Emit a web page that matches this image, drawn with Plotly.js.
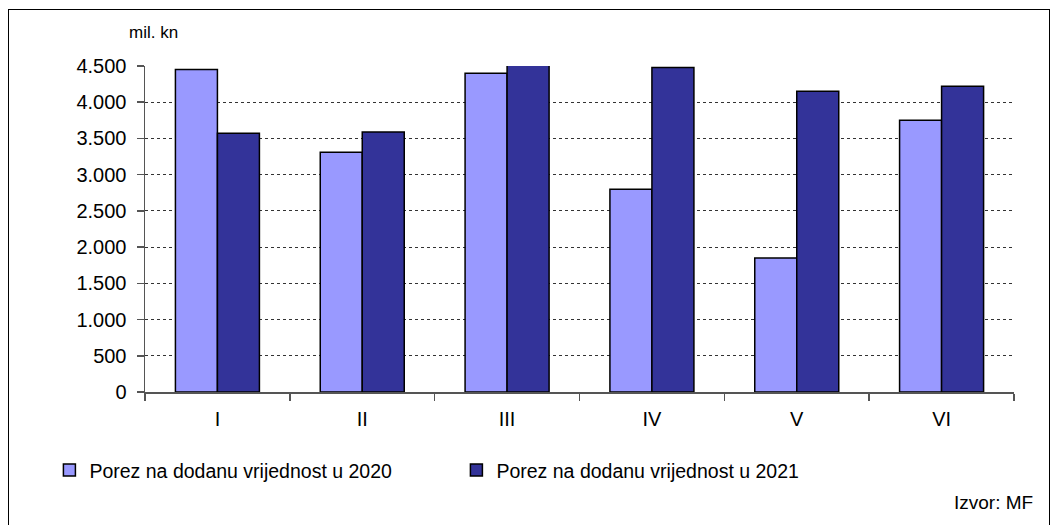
<!DOCTYPE html>
<html><head><meta charset="utf-8">
<script src="https://cdn.plot.ly/plotly-3.0.1.min.js"></script>
<style>
html,body{margin:0;padding:0;background:#fff;}
#wrap{position:relative;width:1059px;height:525px;}
#chart{width:1059px;height:525px;}
#frame{position:absolute;left:8px;top:9px;width:1042px;height:530px;border:1.5px solid #000;pointer-events:none;box-sizing:border-box;}
</style></head>
<body>
<div id="wrap"><div id="chart"></div><div id="frame"></div></div>
<script>
const months = ["I","II","III","IV","V","VI"];
const vat2020 = [4450, 3310, 4400, 2800, 1850, 3750];
const vat2021 = [3570, 3590, 4520, 4480, 4150, 4220];
const name2020 = "Porez na dodanu vrijednost u 2020";
const name2021 = "Porez na dodanu vrijednost u 2021";

const font = "Arial, 'Liberation Sans', sans-serif";
const traces = [
  {type:"bar", x:months, y:vat2020, name:name2020,
   marker:{color:"#9999FF", line:{color:"#000", width:1.5}}},
  {type:"bar", x:months, y:vat2021, name:name2021,
   marker:{color:"#333399", line:{color:"#000", width:1.5}}}
];
const layout = {
  width:1059, height:525,
  margin:{l:145, r:45, t:66, b:133},
  paper_bgcolor:"#fff", plot_bgcolor:"#fff",
  separators:",.",
  font:{family:font, size:20, color:"#000"},
  barmode:"group", bargap:0.42, bargroupgap:0,
  showlegend:true,
  legend:{orientation:"h", x:-0.11, xanchor:"left", y:-0.24, yanchor:"middle",
          font:{family:font, size:19.5, color:"#000"}, bgcolor:"rgba(0,0,0,0)",
          entrywidth:362, entrywidthmode:"pixels", traceorder:"normal"},
  xaxis:{type:"category", showline:true, linecolor:"#555", linewidth:1.5,
         ticks:"outside", tickson:"boundaries", ticklen:7, tickcolor:"#555", tickwidth:1.5,
         tickfont:{family:font, size:20}, showgrid:false, fixedrange:true, ticklabelstandoff:8},
  yaxis:{range:[0,4500], dtick:500, tick0:0, tickformat:",", showline:true, linecolor:"#555", linewidth:1.5,
         ticks:"outside", ticklen:7, tickcolor:"#555", tickwidth:1.5,
         showgrid:true, gridcolor:"#333", griddash:"dot", gridwidth:1, zeroline:false,
         tickfont:{family:font, size:20}, fixedrange:true, ticklabelstandoff:6},
  annotations:[
    {text:"mil. kn", xref:"paper", yref:"paper", x:(153-145)/869, y:(392-33)/326,
     xanchor:"center", yanchor:"middle", showarrow:false, font:{family:font, size:17}},
    {text:"Izvor: MF", xref:"paper", yref:"paper", x:(1035-145)/869, y:(392-502)/326,
     xanchor:"right", yanchor:"middle", showarrow:false, font:{family:font, size:19}}
  ]
};
Plotly.newPlot("chart", traces, layout, {displayModeBar:false, staticPlot:true});
</script>
</body></html>
